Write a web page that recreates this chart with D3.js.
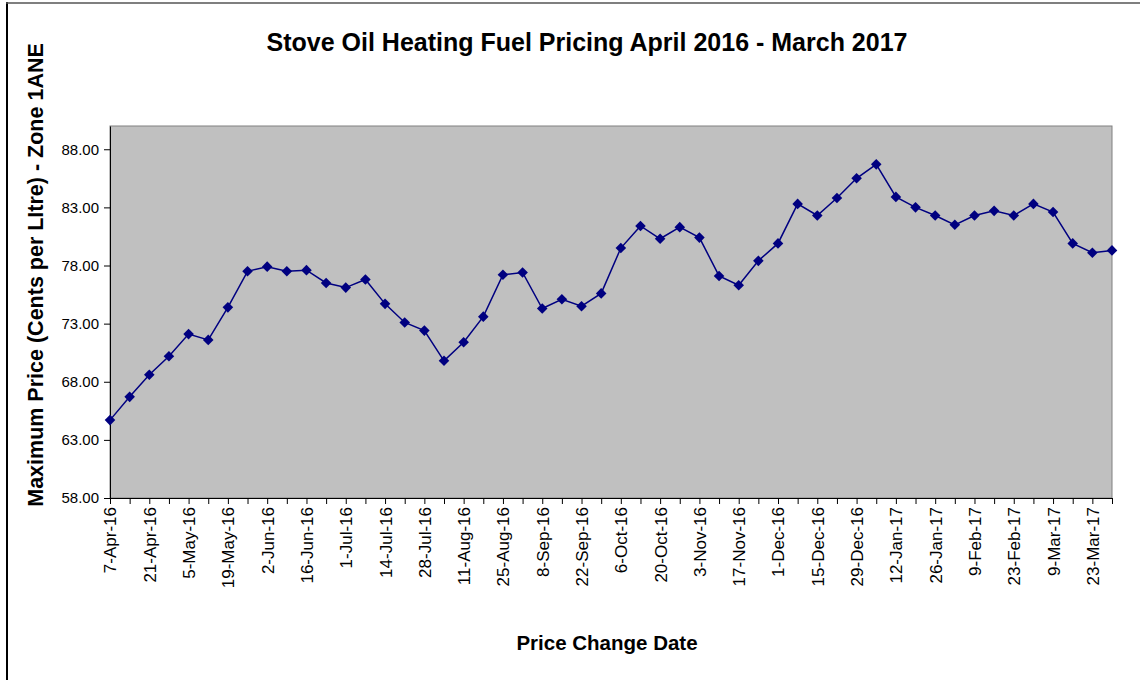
<!DOCTYPE html>
<html lang="en">
<head>
<meta charset="UTF-8">
<title>Stove Oil Heating Fuel Pricing</title>
<script src="https://d3js.org/d3.v7.min.js"></script>
<style>
  body { margin: 0; background: #fff; }
  svg { display: block; font-family: "Liberation Sans", Arial, sans-serif; }
</style>
</head>
<body>
<svg></svg>
<script>
  // price change dates (weekly), only every second one is labelled
  const dates = [
    '7-Apr-16', '14-Apr-16', '21-Apr-16', '28-Apr-16', '5-May-16', '12-May-16', '19-May-16', '26-May-16',
    '2-Jun-16', '9-Jun-16', '16-Jun-16', '23-Jun-16', '1-Jul-16', '7-Jul-16', '14-Jul-16', '21-Jul-16',
    '28-Jul-16', '4-Aug-16', '11-Aug-16', '18-Aug-16', '25-Aug-16', '1-Sep-16', '8-Sep-16', '15-Sep-16',
    '22-Sep-16', '29-Sep-16', '6-Oct-16', '13-Oct-16', '20-Oct-16', '27-Oct-16', '3-Nov-16', '10-Nov-16',
    '17-Nov-16', '24-Nov-16', '1-Dec-16', '8-Dec-16', '15-Dec-16', '22-Dec-16', '29-Dec-16', '5-Jan-17',
    '12-Jan-17', '19-Jan-17', '26-Jan-17', '2-Feb-17', '9-Feb-17', '16-Feb-17', '23-Feb-17', '2-Mar-17',
    '9-Mar-17', '16-Mar-17', '23-Mar-17', '30-Mar-17'
  ]

  // maximum price, cents per litre
  const prices = [
    64.7, 66.7, 68.6, 70.2, 72.1, 71.6, 74.4, 77.5,
    77.9, 77.5, 77.6, 76.5, 76.1, 76.8, 74.7, 73.1,
    72.4, 69.8, 71.4, 73.6, 77.2, 77.4, 74.3, 75.1,
    74.5, 75.6, 79.5, 81.4, 80.3, 81.3, 80.4, 77.1,
    76.3, 78.4, 79.9, 83.3, 82.3, 83.8, 85.5, 86.7,
    83.9, 83.0, 82.3, 81.5, 82.3, 82.7, 82.3, 83.3,
    82.6, 79.9, 79.1, 79.3
  ]

  const yTicks = [58, 63, 68, 73, 78, 83, 88]
  const yDomain = [58, 90]

  const width = 1140
  const height = 680
  const plot = { left: 110, right: 1112, top: 126, bottom: 498 }

  const svg = d3.select('svg')
    .attr('width', width)
    .attr('height', height)

  // chart frame (only left and top edges are in the shot)
  svg.append('line')
    .attr('x1', 7).attr('y1', 2).attr('x2', 7).attr('y2', height)
    .attr('stroke', '#000').attr('stroke-width', 2)
  svg.append('line')
    .attr('x1', 6).attr('y1', 3).attr('x2', width).attr('y2', 3)
    .attr('stroke', '#555').attr('stroke-width', 1.5)

  const x = d3.scalePoint()
    .domain(d3.range(dates.length))
    .range([plot.left, plot.right])

  const y = d3.scaleLinear()
    .domain(yDomain)
    .range([plot.bottom, plot.top])

  // plot area
  svg.append('rect')
    .attr('x', plot.left)
    .attr('y', plot.top)
    .attr('width', plot.right - plot.left)
    .attr('height', plot.bottom - plot.top)
    .attr('fill', '#c0c0c0')
    .attr('stroke', '#808080')
    .attr('stroke-width', 1)

  // y axis
  const yAxis = svg.append('g')
    .attr('transform', `translate(${plot.left},0)`)
    .call(d3.axisLeft(y).tickValues(yTicks).tickFormat(d3.format('.2f')).tickSize(6).tickSizeOuter(0).tickPadding(5))
  yAxis.selectAll('text').attr('font-size', 15).attr('fill', '#000').attr('font-family', '"Liberation Sans", Arial, sans-serif')
  yAxis.selectAll('line, path').attr('stroke', '#000')

  // x axis, tick on every date, label on every second
  const xAxis = svg.append('g')
    .attr('transform', `translate(0,${plot.bottom})`)
    .call(d3.axisBottom(x).tickValues(x.domain()).tickFormat(i => i % 2 === 0 ? dates[i] : '').tickSize(6).tickSizeOuter(0))
  xAxis.selectAll('line, path').attr('stroke', '#000')
  xAxis.selectAll('text')
    .attr('font-size', 17)
    .attr('fill', '#000')
    .attr('font-family', '"Liberation Sans", Arial, sans-serif')
    .attr('transform', 'rotate(-90)')
    .attr('x', -9)
    .attr('y', 0)
    .attr('dy', '0.35em')
    .style('text-anchor', 'end')

  // series line
  const line = d3.line()
    .x((d, i) => x(i))
    .y(d => y(d))

  svg.append('path')
    .datum(prices)
    .attr('d', line)
    .attr('fill', 'none')
    .attr('stroke', '#000080')
    .attr('stroke-width', 1.5)

  // diamond markers
  svg.append('g')
    .selectAll('path')
    .data(prices)
    .join('path')
    .attr('d', d3.symbol(d3.symbolSquare, 56))
    .attr('transform', (d, i) => `translate(${x(i)},${y(d)}) rotate(45)`)
    .attr('fill', '#000080')

  // titles
  svg.append('text')
    .attr('x', 587)
    .attr('y', 51)
    .attr('text-anchor', 'middle')
    .attr('font-size', 25)
    .attr('font-weight', 'bold')
    .text('Stove Oil Heating Fuel Pricing April 2016 - March 2017')

  svg.append('text')
    .attr('transform', 'translate(43,275) rotate(-90)')
    .attr('text-anchor', 'middle')
    .attr('font-size', 21.5)
    .attr('font-weight', 'bold')
    .text('Maximum Price (Cents per LItre) - Zone 1ANE')

  svg.append('text')
    .attr('x', 607)
    .attr('y', 650)
    .attr('text-anchor', 'middle')
    .attr('font-size', 20.5)
    .attr('font-weight', 'bold')
    .text('Price Change Date')
</script>
</body>
</html>
